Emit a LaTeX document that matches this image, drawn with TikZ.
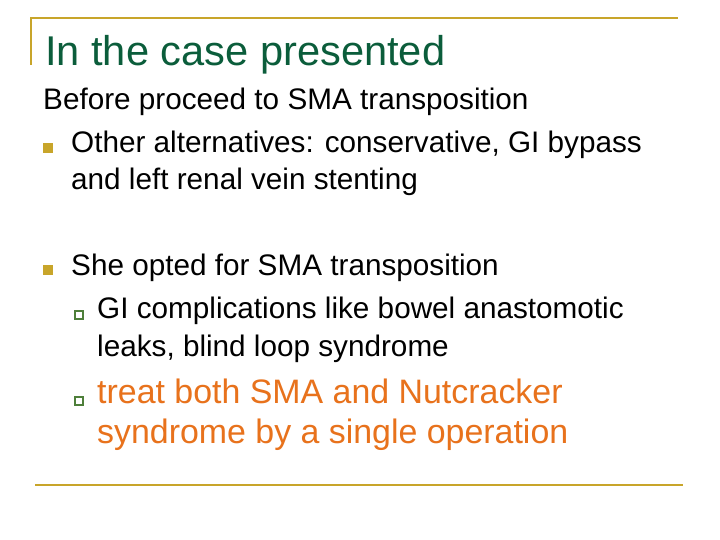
\documentclass[tikz,border=0pt]{standalone}
\usepackage{fontspec}
\setmainfont{Liberation Sans}
\definecolor{gold}{HTML}{C8A52A}
\definecolor{tgreen}{HTML}{0B5D3B}
\definecolor{orng}{HTML}{E8721C}
\definecolor{bgreen}{HTML}{4E7F3A}
\begin{document}
\begin{tikzpicture}[x=1pt,y=-1pt,
  body/.style={anchor=base west,inner sep=0pt,font=\fontsize{29.7}{34}\selectfont},
  big/.style={anchor=base west,inner sep=0pt,font=\fontsize{33.9}{38}\selectfont,text=orng},
  sq/.style={fill=gold,draw=none},
  hsq/.style={draw=bgreen,line width=1.3pt,fill=white}]
\useasboundingbox (0,0) rectangle (720,540);
\fill[white] (0,0) rectangle (720,540);
\draw[gold,line width=2pt] (31,65) -- (31,18) -- (678,18);
\draw[gold,line width=2.5pt] (35,485) -- (683,485);
\node[anchor=base west,inner sep=0pt,text=tgreen,font=\fontsize{41.6}{46}\selectfont] (title) at (45,66) {In the case presented};
\node[body] (l1) at (43,110) {Before proceed to SMA transposition};
\fill[sq] (43,143) rectangle (53,153);
\node[body] (l2) at (71,153) {Other alternatives: conservative, GI bypass};
\node[body] (l3) at (71,190) {and left renal vein stenting};
\fill[sq] (43,265) rectangle (53,275);
\node[body] (l4) at (71,275) {She opted for SMA transposition};
\draw[hsq] (75,311) rectangle (83,319);
\node[body] (l5) at (97,318) {GI complications like bowel anastomotic};
\node[body] (l6) at (97,356) {leaks, blind loop syndrome};
\draw[hsq] (75,397) rectangle (83,405);
\node[big] (l7) at (97,403) {treat both SMA and Nutcracker};
\node[big] (l8) at (97,443) {syndrome by a single operation};
\end{tikzpicture}
\end{document}
